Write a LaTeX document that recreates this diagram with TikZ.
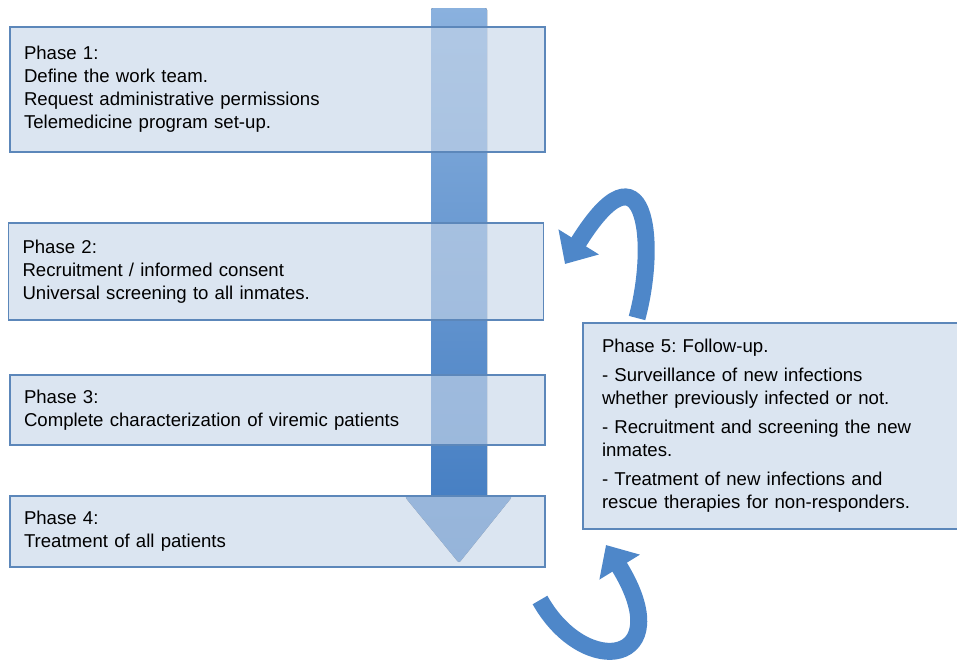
\documentclass[tikz,border=0pt]{standalone}
\usepackage{fontspec}
\setmainfont{Liberation Sans}
\usetikzlibrary{arrows.meta}
\definecolor{boxfill}{RGB}{199,214,233}
\definecolor{boxline}{RGB}{92,135,186}
\definecolor{shafttop}{RGB}{138,177,222}
\definecolor{shaftbottom}{RGB}{62,121,192}
\definecolor{curvecol}{RGB}{78,135,201}
\frenchspacing

\begin{document}
\begin{tikzpicture}[x=1pt, y=-1pt,
		phase_style/.style={rectangle,draw=boxline,line width=1.8pt,fill=boxfill,fill opacity=0.64,text opacity=1,
			align=left,inner xsep=14pt,inner ysep=0pt,font=\fontsize{18.6}{23}\selectfont},
		curve_style/.style={draw=curvecol,line width=17pt,-{Triangle[width=46pt,length=26pt]}}]

		\useasboundingbox (0,0) rectangle (957,665);

		\fill[top color=shafttop, bottom color=shaftbottom, rounded corners=2pt]
			(431,8) -- (487,8) -- (487,497) -- (512,497) -- (459,563) -- (405,497) -- (431,497) -- cycle;

		\node[phase_style, minimum width=535pt, minimum height=125pt, text width=507pt] (p1) at (277.5,89.5)
			{Phase 1:\\ Define the work team.\\ Request administrative permissions\\ Telemedicine program set-up.};
		\node[phase_style, minimum width=535pt, minimum height=97pt, text width=507pt] (p2) at (276,271.5)
			{Phase 2:\\ Recruitment / informed consent\\ Universal screening to all inmates.};
		\node[phase_style, minimum width=535pt, minimum height=70pt, text width=507pt] (p3) at (277.5,410)
			{Phase 3:\\ Complete characterization of viremic patients};
		\node[phase_style, minimum width=535pt, minimum height=71pt, text width=507pt] (p4) at (277.5,531.5)
			{Phase 4:\\ Treatment of all patients};
		\node[phase_style, inner xsep=19pt, minimum width=377pt, minimum height=206pt, text width=339pt] (p5) at (771.5,426)
			{Phase 5: Follow-up.\\[6pt] - Surveillance of new infections\\ whether previously infected or not.\\[6pt]
			 - Recruitment and screening the new\\ inmates.\\[6pt] - Treatment of new infections and\\ rescue therapies for non-responders.};

		\coordinate (c1) at (637,318);
		\coordinate (c2) at (565,264);
		\coordinate (c3) at (540,600);
		\coordinate (c4) at (606,545);

		\draw[curve_style] (c1) .. controls (658,240) and (645,135) .. (c2);
		\draw[curve_style] (c3) .. controls (585,680) and (680,665) .. (c4);
\end{tikzpicture}
\end{document}
